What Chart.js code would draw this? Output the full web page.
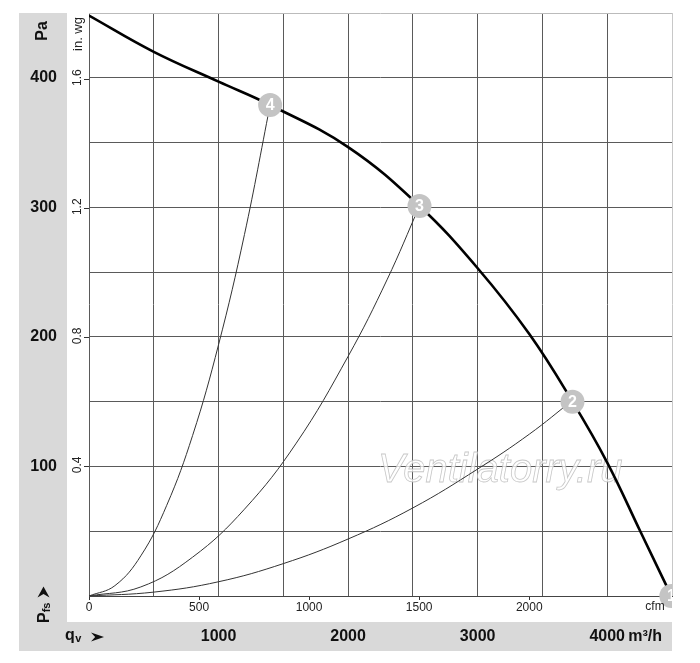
<!DOCTYPE html>
<html><head><meta charset="utf-8">
<script src="https://cdn.jsdelivr.net/npm/chart.js@4.4.1/dist/chart.umd.min.js"></script>
<style>html,body{margin:0;padding:0;background:#fff;}#wrap{width:700px;height:663px;position:relative;}</style>
</head><body><div id="wrap"><canvas id="c"></canvas></div>
<script>
// ---- data (m³/h , Pa) ----
const mainQ = [0, 500, 1000, 1398, 2000, 2551, 3000, 3400, 3732, 4000, 4255, 4495];
const mainP = [448, 420, 397, 379, 346.5, 301, 253, 202, 150, 103, 50, 0];
const sys4Q = [0, 200, 400, 600, 800, 1000, 1200, 1398];
const sys4P = [0, 8, 31, 70, 124, 194, 279, 379];
const sys3Q = [0, 400, 800, 1200, 1600, 2000, 2300, 2551];
const sys3P = [0, 7, 30, 67, 118, 185, 244, 301];
const sys2Q = [0, 500, 1000, 1500, 2000, 2500, 3000, 3400, 3732];
const sys2P = [0, 3, 11, 25, 44, 68, 98, 125, 151];
const markerLabels = ['1', '2', '3', '4'];
const markerQ = [4495, 3732, 2551, 1398];
const markerP = [0, 150, 301, 379];
// ---- ticks ----
const flowTicks = [1000, 2000, 3000, 4000];
const paTicks = [100, 200, 300, 400];
const cfmTicks = [0, 500, 1000, 1500, 2000];
const inwgTicks = [0.4, 0.8, 1.2, 1.6];
const Q_MAX = 4500, P_MAX = 450;
const CFM_PER_M3H = 1 / 1.699, INWG_PER_PA = 1 / 249.09;

const FONT = "'Liberation Sans', Arial, Helvetica, sans-serif";
const GRID = '#5a5a5a';
const pts = (q, p) => q.map((v, i) => ({x: v, y: p[i]}));
const noPad = s => { s.paddingTop = 0; s.paddingBottom = 0; s.paddingLeft = 0; s.paddingRight = 0; };

function rotText(ctx, txt, x, y, font, align, base) {
  ctx.save(); ctx.translate(x, y); ctx.rotate(-Math.PI / 2);
  ctx.font = font; ctx.textAlign = align; ctx.textBaseline = base || 'middle';
  ctx.fillText(txt, 0, 0); ctx.restore();
}
function dart(ctx, x0, cy, w, h) { // pointing right in local frame
  ctx.beginPath();
  ctx.moveTo(x0 + w, cy); ctx.lineTo(x0, cy - h / 2); ctx.lineTo(x0 + w * 0.32, cy);
  ctx.lineTo(x0, cy + h / 2); ctx.closePath(); ctx.fill();
}

const deco = {
  id: 'deco',
  beforeDraw(chart) {
    const {ctx, chartArea: ca, scales} = chart;
    const yP = scales.y, xQ = scales.x;
    ctx.save(); ctx.fillStyle = '#d9d9d9';
    ctx.fillRect(yP.left, ca.top, yP.right - yP.left, xQ.bottom - ca.top);
    ctx.fillRect(yP.left, xQ.top, ca.right - yP.left, xQ.bottom - xQ.top);
    ctx.restore();
  },
  beforeDatasetsDraw(chart) {
    const {ctx, chartArea: ca} = chart;
    ctx.save();
    ctx.font = 'italic 40px ' + FONT; ctx.textAlign = 'left'; ctx.textBaseline = 'alphabetic';
    ctx.fillStyle = 'rgba(255,255,255,0.75)';
    ctx.fillText('Ventilatorry.ru', ca.left + 289, ca.top + 469);
    ctx.strokeStyle = 'rgba(180,180,180,0.75)'; ctx.lineWidth = 0.8;
    ctx.strokeText('Ventilatorry.ru', ca.left + 289, ca.top + 469);
    ctx.restore();
  },
  afterDatasetsDraw(chart) {
    const {ctx, chartArea: ca, scales} = chart;
    ctx.save();
    ctx.beginPath(); ctx.rect(0, 0, ca.right, chart.height); ctx.clip();
    markerQ.forEach((q, i) => {
      const px = scales.x.getPixelForValue(q), py = scales.y.getPixelForValue(markerP[i]);
      ctx.fillStyle = '#c4c4c4';
      ctx.beginPath(); ctx.arc(px, py, 12, 0, Math.PI * 2); ctx.fill();
      ctx.fillStyle = '#fff'; ctx.font = 'bold 16px ' + FONT;
      ctx.textAlign = 'center'; ctx.textBaseline = 'middle';
      ctx.fillText(markerLabels[i], px, py + 1);
    });
    ctx.restore();
  },
  afterDraw(chart) {
    const {ctx, chartArea: ca, scales} = chart;
    const yP = scales.y, yI = scales.yin, xQ = scales.x;
    ctx.save();
    ctx.fillStyle = '#111';
    const bandMid = (yP.left + yP.right) / 2;
    rotText(ctx, 'Pa', bandMid, ca.top + 18, 'bold 16px ' + FONT, 'center');
    const inMid = (yI.left + yI.right) / 2;
    ctx.fillStyle = '#222';
    rotText(ctx, 'in. wg', inMid, ca.top + 21, '13px ' + FONT, 'center');
    inwgTicks.forEach(v => rotText(ctx, v.toFixed(1), inMid, yI.getPixelForValue(v) - 2, '12px ' + FONT, 'center'));
    // Pfs with arrow (rotated)
    ctx.fillStyle = '#111';
    ctx.save(); ctx.translate(bandMid, ca.bottom + 27); ctx.rotate(-Math.PI / 2);
    ctx.textAlign = 'left'; ctx.textBaseline = 'alphabetic';
    ctx.font = 'bold 16px ' + FONT; ctx.fillText('P', 0, 5.5);
    const pw = ctx.measureText('P').width;
    ctx.font = 'bold 11px ' + FONT; ctx.fillText('fs', pw, 7);
    const fw = ctx.measureText('fs').width;
    dart(ctx, pw + fw + 5, 0.5, 11, 12);
    ctx.restore();
    // qv with arrow
    const qMid = (xQ.top + xQ.bottom) / 2;
    ctx.textAlign = 'left'; ctx.textBaseline = 'alphabetic';
    ctx.font = 'bold 16px ' + FONT; ctx.fillText('q', yP.left + 46, qMid + 3.5);
    const qw = ctx.measureText('q').width;
    ctx.font = 'bold 11px ' + FONT; ctx.fillText('v', yP.left + 46 + qw + 0.5, qMid + 5.5);
    dart(ctx, yP.left + 72, qMid + 0.5, 13, 9);
    // m³/h unit
    ctx.font = 'bold 16px ' + FONT; ctx.textBaseline = 'middle';
    ctx.fillText('m³/h', xQ.getPixelForValue(4000) + 21, qMid + 0.5);
    // cfm unit
    ctx.fillStyle = '#222'; ctx.font = '12px ' + FONT; ctx.textAlign = 'center';
    ctx.fillText('cfm', ca.right - 17, ca.bottom + 11);
    ctx.restore();
  }
};

const lineDs = (q, p, color, w) => ({data: pts(q, p), borderColor: color, borderWidth: w, pointRadius: 0, tension: 0.4, fill: false});

new Chart(document.getElementById('c'), {
  type: 'line',
  data: {
    datasets: [
      lineDs(sys4Q, sys4P, '#333', 1),
      lineDs(sys3Q, sys3P, '#333', 1),
      lineDs(sys2Q, sys2P, '#333', 1),
      lineDs(mainQ, mainP, '#000', 2.6)
    ]
  },
  options: {
    responsive: true, maintainAspectRatio: false, animation: false,
    layout: {padding: {left: 19, right: 28, top: 13, bottom: 12}},
    plugins: {legend: {display: false}, tooltip: {enabled: false}},
    scales: {
      x: {
        type: 'linear', position: 'bottom', weight: 2, min: 0, max: Q_MAX,
        afterBuildTicks: s => { s.ticks = []; for (let v = 0; v <= Q_MAX; v += 500) s.ticks.push({value: v}); },
        ticks: {autoSkip: false, maxRotation: 0, padding: 5, color: '#111', font: {family: FONT, size: 16, weight: 'bold'},
          callback: v => flowTicks.includes(v) ? String(v) : ''},
        grid: {drawTicks: false, lineWidth: 1, color: c => (c.tick && c.tick.value === Q_MAX) ? '#c8c8c8' : GRID},
        border: {display: false},
        afterFit: s => { s.height = 29; noPad(s); }
      },
      xc: {
        type: 'linear', position: 'bottom', weight: 1, min: 0, max: Q_MAX * CFM_PER_M3H,
        afterBuildTicks: s => { s.ticks = cfmTicks.map(v => ({value: v})); },
        ticks: {autoSkip: false, maxRotation: 0, padding: 0, color: '#222', font: {family: FONT, size: 12},
          callback: v => String(v)},
        grid: {drawOnChartArea: false, drawTicks: true, tickLength: 4, tickColor: '#333'},
        border: {display: true, color: '#444', width: 1},
        afterFit: s => { s.height = 26; noPad(s); }
      },
      y: {
        type: 'linear', position: 'left', weight: 2, min: 0, max: P_MAX,
        afterBuildTicks: s => { s.ticks = []; for (let v = 0; v <= P_MAX; v += 50) s.ticks.push({value: v}); },
        ticks: {autoSkip: false, crossAlign: 'center', padding: 10, color: '#111', font: {family: FONT, size: 16, weight: 'bold'},
          callback: v => paTicks.includes(v) ? String(v) : ''},
        grid: {drawTicks: false, lineWidth: 1, color: c => (c.tick && c.tick.value === P_MAX) ? '#bbbbbb' : GRID},
        border: {display: false},
        afterFit: s => { s.width = 48; noPad(s); }
      },
      yin: {
        type: 'linear', position: 'left', weight: 1, min: 0, max: P_MAX * INWG_PER_PA,
        afterBuildTicks: s => { s.ticks = inwgTicks.map(v => ({value: v})); },
        ticks: {display: false},
        grid: {drawOnChartArea: false, drawTicks: true, tickLength: 5, tickColor: '#333'},
        border: {display: false},
        afterFit: s => { s.width = 22; noPad(s); }
      }
    }
  },
  plugins: [deco]
});
</script></body></html>
